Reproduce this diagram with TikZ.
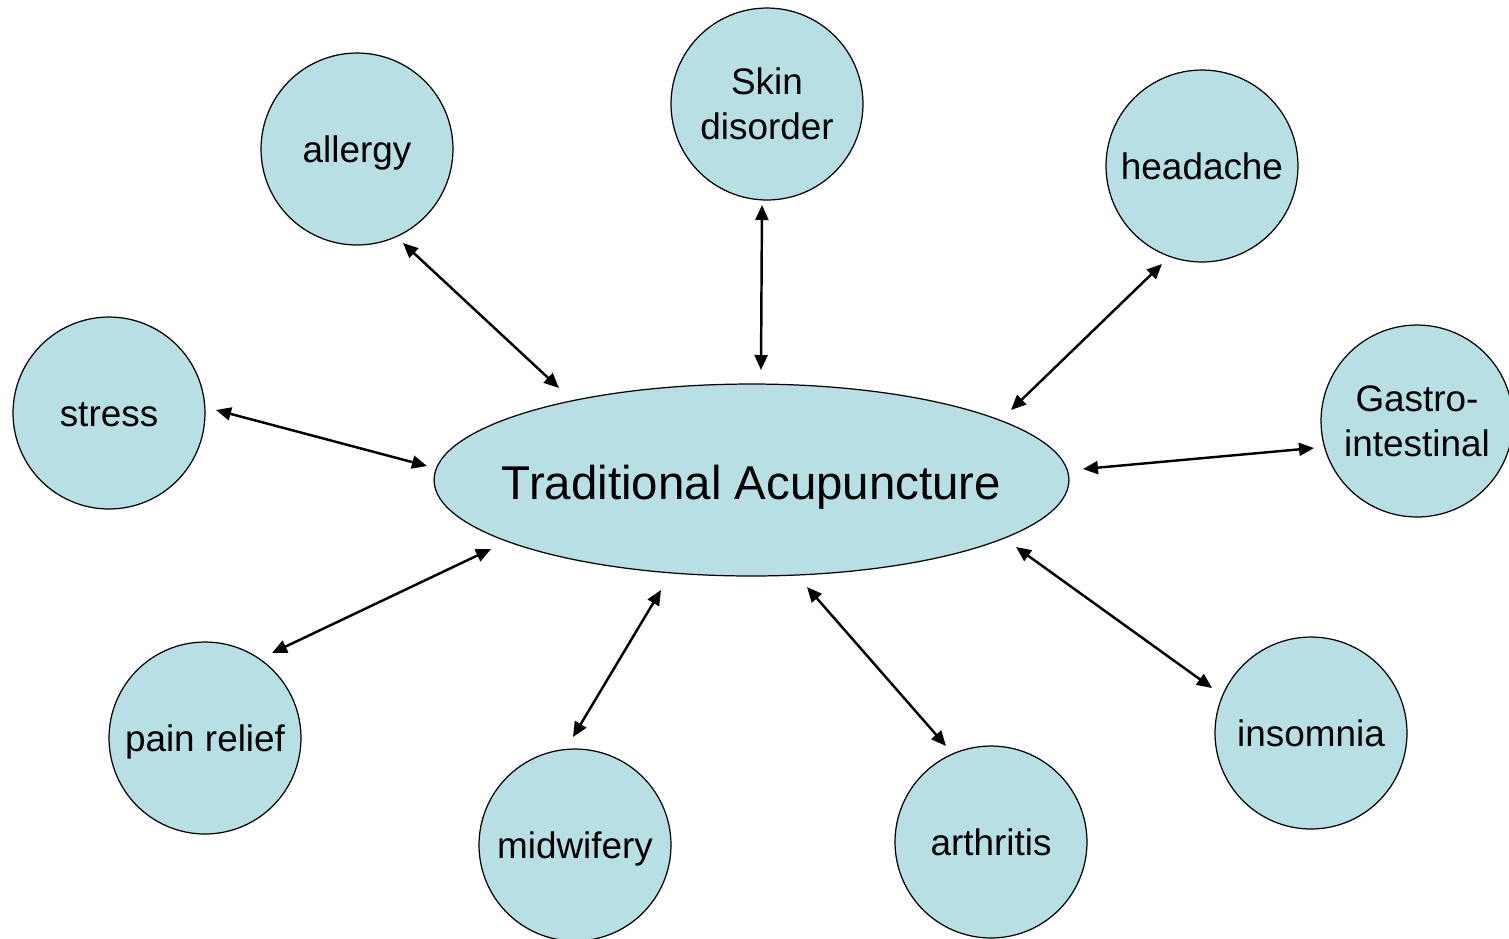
\documentclass[tikz,border=0pt]{standalone}
\usepackage{fontspec}
\setmainfont{Liberation Sans}
\usetikzlibrary{arrows.meta,shapes.geometric}
\definecolor{fillc}{HTML}{B8DFE3}
\tikzset{
  disc/.style={circle, draw=black, line width=0.7pt, fill=fillc, inner sep=0pt,
    minimum size=3.84cm, font=\fontsize{21}{25.6}\selectfont},
  topic/.style={disc, align=center},
  topicone/.style={disc, text height=15pt, text depth=0pt},
  hub/.style={ellipse, draw=black, line width=0.7pt, fill=fillc, inner sep=0pt,
    minimum width=12.7cm, minimum height=3.84cm},
  hubtext/.style={font=\fontsize{27}{32}\selectfont, text height=19.4pt, text depth=0pt},
  link/.style={line width=1.4pt, {Triangle[length=0.3cm,width=0.26cm]}-{Triangle[length=0.3cm,width=0.26cm]}}
}
\begin{document}
\begin{tikzpicture}[x=0.02cm,y=-0.02cm]
\useasboundingbox (0,0) rectangle (1509,938);
\node[hub] (ta) at (751.5,480) {};
\node[hubtext] (tat) at (751.5,482) {Traditional Acupuncture};
\node[topicone] (allergy) at (357,149) {allergy};
\node[topic] (skin) at (767,104) {Skin\\disorder};
\node[topicone] (headache) at (1202,166) {headache};
\node[topic] (gastro) at (1417,421) {Gastro-\\intestinal};
\node[topicone] (stress) at (109,413) {stress};
\node[topicone] (pain) at (205,738) {pain relief};
\node[topicone] (midwifery) at (575,845) {midwifery};
\node[topicone] (arthritis) at (991,842) {arthritis};
\node[topicone] (insomnia) at (1311,733) {insomnia};
% arrow end points
\coordinate (a1) at (403,243); \coordinate (a2) at (559,388);
\coordinate (s1) at (762,205); \coordinate (s2) at (761,370);
\coordinate (h1) at (1162,264); \coordinate (h2) at (1011,410);
\coordinate (st1) at (216,410); \coordinate (st2) at (427,466);
\coordinate (g1) at (1083,469); \coordinate (g2) at (1314,448);
\coordinate (p1) at (491,549); \coordinate (p2) at (272,653);
\coordinate (m1) at (661,590); \coordinate (m2) at (573,737);
\coordinate (ar1) at (807,587); \coordinate (ar2) at (946,746);
\coordinate (i1) at (1016,547); \coordinate (i2) at (1212,688);
\draw[link] (a1) -- (a2);
\draw[link] (s1) -- (s2);
\draw[link] (h1) -- (h2);
\draw[link] (st1) -- (st2);
\draw[link] (g1) -- (g2);
\draw[link] (p1) -- (p2);
\draw[link] (m1) -- (m2);
\draw[link] (ar1) -- (ar2);
\draw[link] (i1) -- (i2);
\end{tikzpicture}
\end{document}
